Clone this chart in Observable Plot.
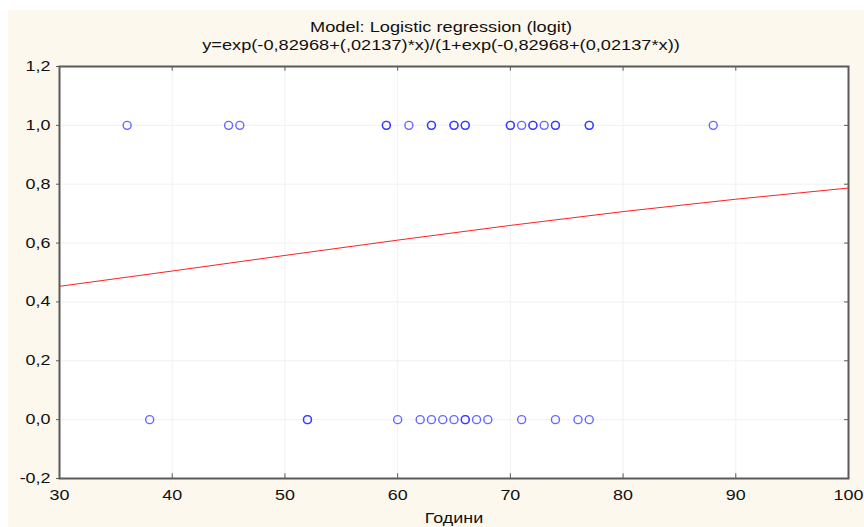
<!DOCTYPE html>
<html>
<head>
<meta charset="utf-8">
<script src="https://cdn.jsdelivr.net/npm/d3@7"></script>
<script src="https://cdn.jsdelivr.net/npm/@observablehq/plot@0.6"></script>
<style>
  html, body { margin: 0; padding: 0; background: #ffffff; }
  #frame { position: absolute; left: 8px; top: 10px; width: 856px; height: 517px; background: #fdf8ee; font-family: "Liberation Sans", Arial, sans-serif; }
  #title { height: 46px; box-sizing: border-box; padding-top: 8px; padding-left: 10px; text-align: center; color: #111; font-size: 14px; }
  #title div { line-height: 18px; height: 18px; transform: scaleX(1.3); transform-origin: center; white-space: nowrap; }
  svg { display: block; }
</style>
</head>
<body>
<div id="frame">
  <div id="title">
    <div id="t1">Model: Logistic regression (logit)</div>
    <div id="t2">y=exp(-0,82968+(,02137)*x)/(1+exp(-0,82968+(0,02137*x))</div>
  </div>
  <div id="chart"></div>
</div>
<script>
// Observed cases with outcome 1 (x = години)
const onesX = [36,45,46,59,59,61,63,63,65,65,66,66,70,70,71,72,72,73,74,74,77,77,88];
// Observed cases with outcome 0
const zerosX = [38,52,52,60,62,63,64,65,66,66,67,68,71,74,76,77];
// Fitted logistic curve
const curveX = [30,40,50,60,70,80,90,100];
const curveP = [0.453,0.505,0.558,0.610,0.660,0.707,0.749,0.787];
// Ticks
const xTicks = [30,40,50,60,70,80,90,100];
const yTicks = [-0.2,0,0.2,0.4,0.6,0.8,1.0,1.2];
const xLabel = "Години";

const points = [
  ...onesX.map(x => ({x, y: 1})),
  ...zerosX.map(x => ({x, y: 0}))
];
const curve = curveX.map((x, i) => ({x, y: curveP[i]}));
const fmt = d => d.toFixed(1).replace(".", ",").replace("-0,0", "0,0");

const axisColor = "#5a5a5a";
const tx = 0.35;   // right-side inward tick length (x units)
const ty = 0.016;  // top/bottom inward tick length (y units)

const chart = Plot.plot({
  width: 856,
  height: 471,
  marginLeft: 51,
  marginRight: 16,
  marginTop: 10,
  marginBottom: 49,
  style: { background: "transparent", fontFamily: "'Liberation Sans', Arial, sans-serif", fontSize: "14px", color: "#111" },
  x: { domain: [30, 100], ticks: xTicks, label: null },
  y: { domain: [-0.2, 1.2], ticks: yTicks, label: null },
  marks: [
    Plot.frame({ fill: "white", stroke: null }),
    Plot.gridX(xTicks, { stroke: "#f1f1f1", strokeOpacity: 1 }),
    Plot.gridY(yTicks, { stroke: "#f1f1f1", strokeOpacity: 1 }),
    Plot.ruleX(xTicks, { y1: -0.2, y2: -0.2 + ty, stroke: axisColor, strokeWidth: 1 }),
    Plot.ruleX(xTicks, { y1: 1.2, y2: 1.2 - ty, stroke: axisColor, strokeWidth: 1 }),
    Plot.ruleY(yTicks, { x1: 100, x2: 100 - tx, stroke: axisColor, strokeWidth: 1 }),
    Plot.axisY({ ticks: yTicks, tickFormat: fmt, tickSize: 3, tickPadding: 6, stroke: axisColor, fontSize: 14, label: null }),
    Plot.axisX({ ticks: xTicks, tickFormat: d => String(d), tickSize: 0, tickPadding: 12, fontSize: 14, label: null }),
    Plot.text([xLabel], { frameAnchor: "bottom", dy: 44, fontSize: 14, fill: "#111" }),
    Plot.line(curve, { x: "x", y: "y", stroke: "#ff2020", strokeWidth: 1 }),
    Plot.dot(points, { x: "x", y: "y", r: 4, stroke: "#2626ff", strokeOpacity: 0.7, strokeWidth: 1.4, fill: "none" }),
    Plot.frame({ stroke: axisColor, strokeWidth: 2 })
  ]
});
// Horizontally stretch every text about its anchor, as in the reference
chart.querySelectorAll("text").forEach(el => {
  let t = el.getAttribute("transform") || "";
  const x = el.getAttribute("x");
  if (x !== null && !isNaN(parseFloat(x)) && /^[-\d.]+$/.test(x.trim())) {
    t += ` translate(${x},0)`;
    el.removeAttribute("x");
  }
  el.setAttribute("transform", (t + " scale(1.28,1)").trim());
});
document.getElementById("chart").appendChild(chart);
</script>
</body>
</html>
